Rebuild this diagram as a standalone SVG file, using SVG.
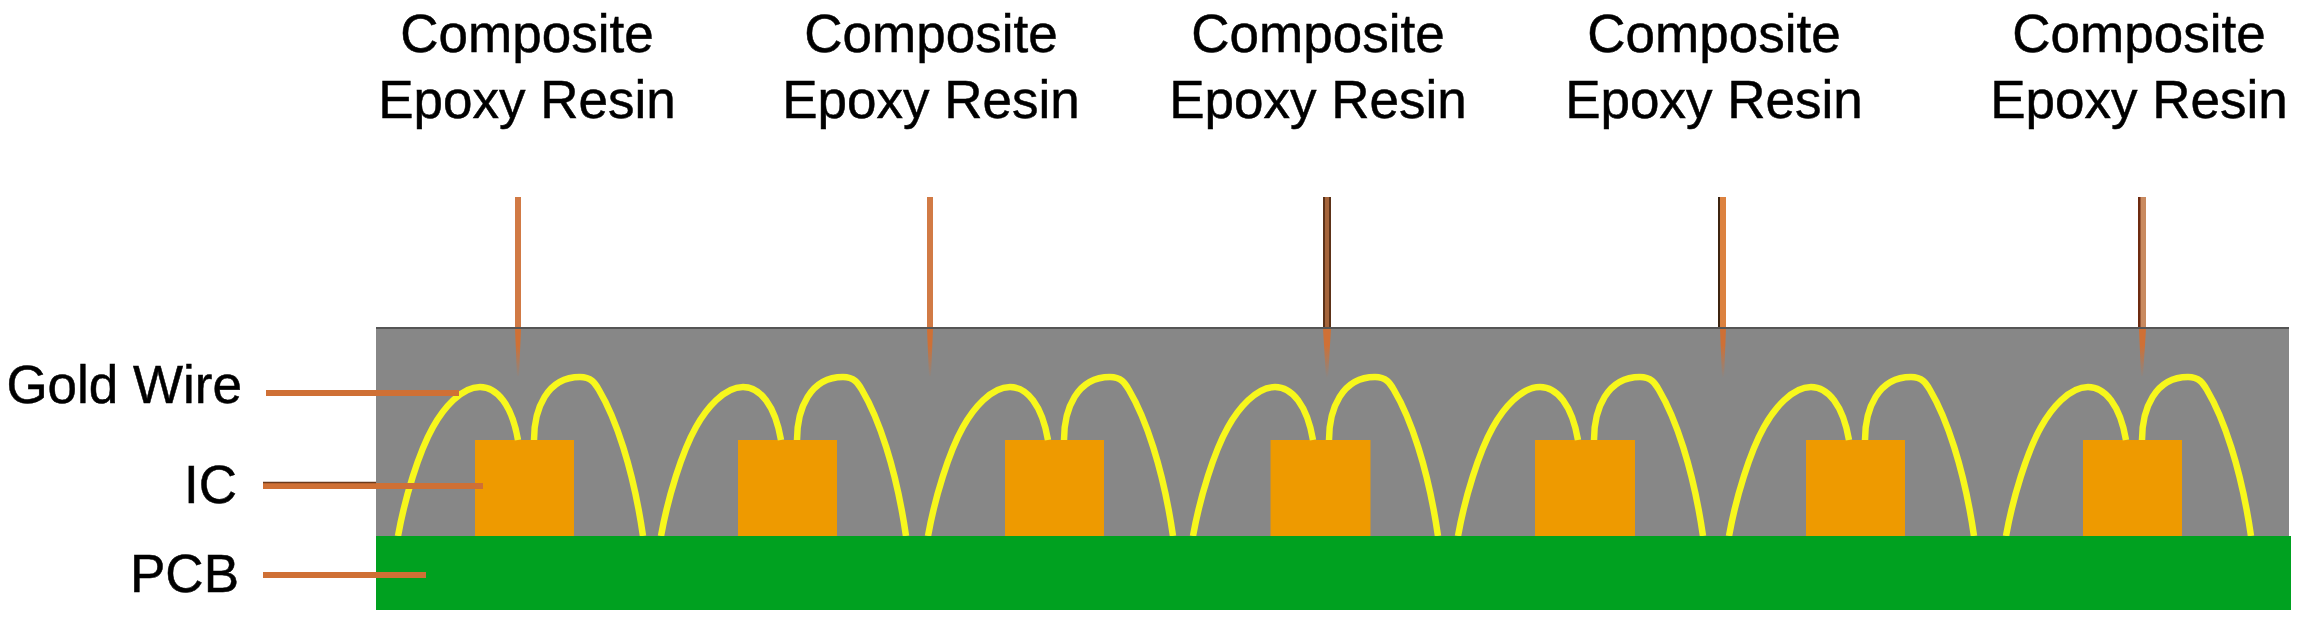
<svg xmlns="http://www.w3.org/2000/svg" width="2300" height="621" viewBox="0 0 2300 621">
<style>
text{font-family:"Liberation Sans",Arial,sans-serif;font-size:53px;fill:#000;stroke:#000;stroke-width:.5}
.c{text-anchor:middle}.r{text-anchor:end}
.ic{fill:#ee9a00}
.w{fill:none;stroke:#f7f71c;stroke-width:6.500}
.l{stroke:#cf7035;fill:none}
.t{fill:url(#fade)}
</style>
<defs>
<linearGradient id="fade" gradientUnits="userSpaceOnUse" x1="0" y1="345" x2="0" y2="378"><stop offset="0" stop-color="#cf7035"/><stop offset="1" stop-color="#cf7035" stop-opacity="0"/></linearGradient>
<path id="wires" class="w" d="M-77 119C-70 80-56 35-42 10C-32-8-14-30 5-30C22-30 37-12 43 23M59 23C59-8 72-40 105-40C116-40 120-34 124-27C140 0 158 50 168 119"/>
</defs>
<rect width="2300" height="621" fill="#fff"/>
<g id="resin"><rect x="376" y="327" width="1913" height="209" fill="#878787"/><rect x="376" y="327" width="1913" height="2" fill="#555"/></g>
<g id="chip1"><rect class="ic" x="475" y="440" width="99" height="96"/><use href="#wires" x="475" y="417"/></g>
<g id="chip2"><rect class="ic" x="738" y="440" width="99" height="96"/><use href="#wires" x="738" y="417"/></g>
<g id="chip3"><rect class="ic" x="1005" y="440" width="99" height="96"/><use href="#wires" x="1005" y="417"/></g>
<g id="chip4"><rect class="ic" x="1270.500" y="440" width="100" height="96"/><use href="#wires" x="1270" y="417"/></g>
<g id="chip5"><rect class="ic" x="1535" y="440" width="100" height="96"/><use href="#wires" x="1535" y="417"/></g>
<g id="chip6"><rect class="ic" x="1806" y="440" width="99" height="96"/><use href="#wires" x="1806" y="417"/></g>
<g id="chip7"><rect class="ic" x="2083" y="440" width="99" height="96"/><use href="#wires" x="2083" y="417"/></g>
<g id="pcb"><rect x="376" y="536" width="1915" height="74" fill="#00a120"/></g>
<g id="connectors">
<path class="l" stroke-width="6" d="M266 393H459M263 486H483M263 575H426"/>
<path stroke="#6b3a1c" stroke-width="1.500" fill="none" d="M263 482.500H376"/>
<rect x="515" y="197" width="6" height="130" fill="#d17a45"/><path class="t" d="M515 329H521L519 376H517Z"/>
<rect x="927" y="197" width="6" height="130" fill="#d17a45"/><path class="t" d="M927 329H933L931 376H929Z"/>
<rect x="1323" y="197" width="8" height="130" fill="#5c3218"/><rect x="1325" y="197" width="4" height="130" fill="#a5643a"/><path class="t" d="M1323 329H1331L1328 378H1326Z"/>
<rect x="1718" y="197" width="8" height="130" fill="#dc8240"/><rect x="1718" y="197" width="2" height="130" fill="#3d2410"/><path class="t" d="M1720 329H1726L1724 378H1722Z"/>
<rect x="2138" y="197" width="8" height="130" fill="#c98a5f"/><rect x="2138" y="197" width="2.500" height="130" fill="#6e2a10"/><path class="t" d="M2139 329H2146L2143 376H2141Z"/>
</g>
<g id="labels">
<text class="c" x="527" y="52">Composite</text><text class="c" x="527" y="118">Epoxy Resin</text>
<text class="c" x="931" y="52">Composite</text><text class="c" x="931" y="118">Epoxy Resin</text>
<text class="c" x="1318" y="52">Composite</text><text class="c" x="1318" y="118">Epoxy Resin</text>
<text class="c" x="1714" y="52">Composite</text><text class="c" x="1714" y="118">Epoxy Resin</text>
<text class="c" x="2139" y="52">Composite</text><text class="c" x="2139" y="118">Epoxy Resin</text>
<text class="r" x="242" y="403">Gold Wire</text>
<text class="r" x="237" y="503">IC</text>
<text class="r" x="239" y="592">PCB</text>
</g>
</svg>
